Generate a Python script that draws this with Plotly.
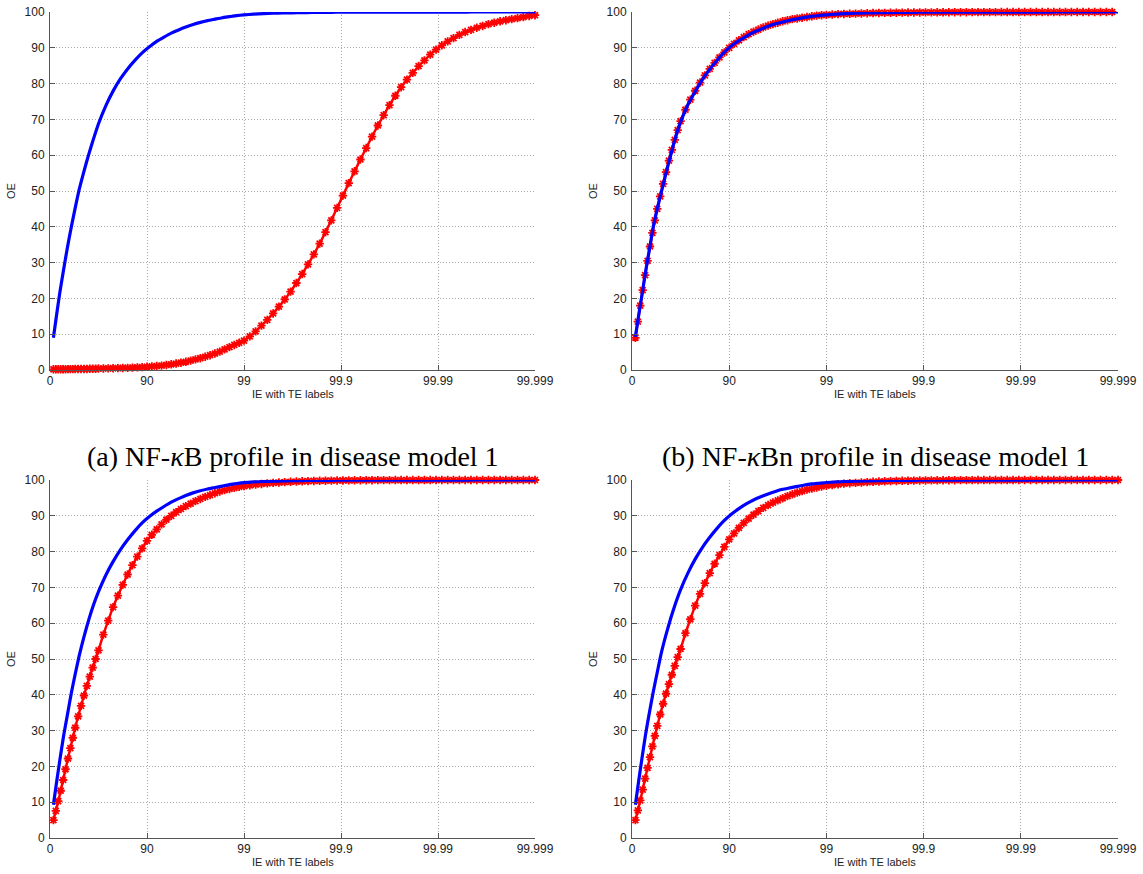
import plotly.graph_objects as go

# ---------------- data ----------------
X_TICK_VALS = [0, 1, 2, 3, 4, 5]
X_TICK_TEXT = ["0", "90", "99", "99.9", "99.99", "99.999"]
Y_TICK_VALS = [0, 10, 20, 30, 40, 50, 60, 70, 80, 90, 100]

# sample positions of the blue (line only) series
X_BLUE = [0.035, 0.07, 0.10, 0.14, 0.18, 0.22, 0.26, 0.30, 0.35, 0.40, 0.45, 0.50,
          0.575, 0.65, 0.725, 0.80, 0.875, 0.95, 1.025, 1.10, 1.175, 1.25, 1.325, 1.40,
          1.475, 1.55, 1.625, 1.70, 1.775, 1.85, 1.925, 2.00,
          2.1, 2.2, 2.3, 2.4, 2.5, 2.6, 2.7, 2.8, 2.9, 3.0, 3.1, 3.2, 3.3, 3.4, 3.5,
          3.6, 3.7, 3.8, 3.9, 4.0, 4.1, 4.2, 4.3, 4.4, 4.5, 4.6, 4.7, 4.8, 4.9, 5.0]

# sample positions of the red (line + marker) series
X_RED = [0.035, 0.06, 0.085, 0.11, 0.135, 0.16, 0.185, 0.21, 0.235, 0.26, 0.29, 0.32,
         0.35, 0.38, 0.41, 0.44, 0.47, 0.50,
         0.55, 0.60, 0.65, 0.70, 0.75, 0.80, 0.85, 0.90, 0.95, 1.00, 1.05, 1.10, 1.15,
         1.20, 1.25, 1.30, 1.35, 1.40, 1.45, 1.50, 1.55, 1.60, 1.65, 1.70, 1.75, 1.80,
         1.85, 1.90, 1.95, 2.00,
         2.06, 2.12, 2.18, 2.24, 2.30, 2.36, 2.42, 2.48, 2.54, 2.60, 2.66, 2.72, 2.78,
         2.84, 2.90, 2.96, 3.02, 3.08, 3.14, 3.20, 3.26, 3.32, 3.38, 3.44, 3.50, 3.56,
         3.62, 3.68, 3.74, 3.80, 3.86, 3.92, 3.98, 4.04, 4.10, 4.16, 4.22, 4.28, 4.34,
         4.40, 4.46, 4.52, 4.58, 4.64, 4.70, 4.76, 4.82, 4.88, 4.94, 5.00]

A_BLUE = [9.0, 15.8, 21.4, 28.0, 34.3, 40.0, 45.3, 50.3, 55.5, 60.3, 64.7, 68.8,
          73.8, 77.9, 81.3, 84.1, 86.5, 88.6, 90.3, 91.8, 93.0, 94.1, 95.0, 95.8,
          96.5, 97.1, 97.6, 98.0, 98.4, 98.7, 99.0, 99.2,
          99.4, 99.55, 99.65, 99.72, 99.78, 99.83, 99.87, 99.9, 99.92, 99.94, 99.95,
          99.96, 99.96, 99.97, 99.97, 99.98, 99.98, 99.98, 99.99, 99.99, 99.99, 99.99,
          99.99, 100, 100, 100, 100, 100, 100, 100]
A_RED = [0.2, 0.2, 0.2, 0.2, 0.2, 0.2, 0.25, 0.25, 0.25, 0.3, 0.3, 0.3,
         0.3, 0.3, 0.35, 0.35, 0.35, 0.4,
         0.43, 0.46, 0.5, 0.53, 0.57, 0.6, 0.67, 0.73, 0.8, 0.9, 1.0, 1.1, 1.23,
         1.4, 1.6, 1.8, 2.03, 2.3, 2.63, 2.97, 3.3, 3.7, 4.13, 4.6, 5.13, 5.75,
         6.4, 7.0, 7.6, 8.2,
         9.4, 10.8, 12.4, 14.0, 15.8, 17.7, 19.7, 21.9, 24.3, 26.8, 29.5, 32.3, 35.3,
         38.5, 41.8, 45.3, 48.7, 52.2, 55.5, 58.8, 62.0, 65.2, 68.3, 71.2, 74.0, 76.6,
         79.0, 81.1, 83.0, 84.9, 86.5, 88.1, 89.5, 90.7, 91.8, 92.7, 93.6, 94.4, 95.0,
         95.6, 96.1, 96.6, 97.0, 97.4, 97.7, 98.0, 98.3, 98.6, 98.9, 99.1]

B_BLUE = [9.3, 15.5, 20.5, 27.5, 33.8, 40.2, 45.1, 49.5, 55.0, 60.2, 65.2, 69.3,
          74.1, 77.8, 81.2, 84.0, 86.5, 88.8, 90.6, 92.0, 93.2, 94.3, 95.2, 96.0,
          96.7, 97.2, 97.7, 98.1, 98.5, 98.8, 99.0, 99.2,
          99.4, 99.55, 99.65, 99.72, 99.78, 99.83, 99.87, 99.9, 99.92, 99.94, 99.95,
          99.96, 99.96, 99.97, 99.97, 99.98, 99.98, 99.98, 99.99, 99.99, 99.99, 99.99,
          99.99, 100, 100, 100, 100, 100, 100, 100]
B_RED = [9.0, 13.5, 18.0, 22.3, 26.5, 30.5, 34.5, 38.3, 41.8, 45.0, 48.5, 52.0,
         55.3, 58.5, 61.5, 64.3, 67.0, 69.5,
         72.7, 75.5, 78.0, 80.3, 82.3, 84.1, 85.8, 87.3, 88.7, 90.0, 91.1, 92.1, 93.0,
         93.8, 94.5, 95.1, 95.7, 96.2, 96.6, 97.0, 97.4, 97.7, 98.0, 98.2, 98.4, 98.6,
         98.8, 99.0, 99.1, 99.2,
         99.3, 99.4, 99.45, 99.5, 99.55, 99.6, 99.65, 99.7, 99.73, 99.76, 99.78, 99.8,
         99.82, 99.84, 99.86, 99.88, 99.89, 99.9, 99.91, 99.92, 99.93, 99.94, 99.95,
         99.95, 99.96, 99.96, 99.97, 99.97, 99.97, 99.98, 99.98, 99.98, 99.98, 99.99,
         99.99, 99.99, 99.99, 99.99, 99.99, 99.99, 99.99, 100, 100, 100, 100, 100,
         100, 100, 100]

C_BLUE = [9.3, 16.0, 21.5, 28.5, 34.5, 40.5, 45.8, 50.8, 56.2, 61.0, 65.2, 68.8,
          73.4, 77.2, 80.5, 83.3, 85.8, 88.0, 89.8, 91.3, 92.6, 93.8, 94.8, 95.7,
          96.4, 97.0, 97.5, 97.9, 98.3, 98.7, 99.0, 99.25,
          99.45, 99.58, 99.67, 99.74, 99.8, 99.84, 99.88, 99.9, 99.92, 99.94, 99.95,
          99.96, 99.96, 99.97, 99.97, 99.98, 99.98, 99.98, 99.99, 99.99, 99.99, 99.99,
          99.99, 100, 100, 100, 100, 100, 100, 100]
C_RED = [5.0, 7.6, 10.3, 13.2, 16.2, 19.2, 22.2, 25.1, 28.0, 30.8, 34.0, 36.9,
         39.8, 42.5, 45.1, 47.6, 50.0, 52.4,
         56.8, 60.7, 64.5, 67.7, 70.7, 73.6, 76.2, 78.6, 80.9, 83.0, 84.7, 86.2, 87.6,
         88.9, 90.0, 91.0, 91.9, 92.7, 93.4, 94.1, 94.7, 95.3, 95.8, 96.3, 96.8, 97.2,
         97.5, 97.8, 98.1, 98.3,
         98.5, 98.7, 98.9, 99.05, 99.2, 99.3, 99.4, 99.5, 99.57, 99.63, 99.68, 99.73,
         99.77, 99.8, 99.83, 99.86, 99.88, 99.9, 99.92, 99.93, 99.94, 99.95, 99.96,
         99.97, 99.97, 99.98, 99.98, 99.98, 99.99, 99.99, 99.99, 99.99, 100, 100, 100,
         100, 100, 100, 100, 100, 100, 100, 100, 100, 100, 100, 100, 100, 100, 100]

D_BLUE = [9.3, 16.2, 21.8, 29.0, 35.2, 41.0, 46.3, 51.5, 56.8, 61.5, 65.7, 69.4,
          74.0, 77.9, 81.2, 84.0, 86.5, 88.7, 90.5, 92.0, 93.3, 94.4, 95.3, 96.1,
          96.8, 97.4, 97.8, 98.2, 98.6, 98.9, 99.1, 99.3,
          99.45, 99.58, 99.67, 99.74, 99.8, 99.84, 99.88, 99.9, 99.92, 99.94, 99.95,
          99.96, 99.96, 99.97, 99.97, 99.98, 99.98, 99.98, 99.99, 99.99, 99.99, 99.99,
          99.99, 100, 100, 100, 100, 100, 100, 100]
D_RED = [5.0, 7.7, 10.5, 13.5, 16.6, 19.6, 22.6, 25.6, 28.5, 31.3, 34.5, 37.5,
         40.3, 43.0, 45.6, 48.1, 50.5, 52.8,
         57.2, 61.1, 64.9, 68.2, 71.2, 74.0, 76.6, 79.0, 81.3, 83.4, 85.1, 86.6, 88.0,
         89.2, 90.3, 91.3, 92.2, 93.0, 93.7, 94.3, 94.9, 95.5, 96.0, 96.5, 96.9, 97.3,
         97.6, 97.9, 98.2, 98.4,
         98.6, 98.8, 99.0, 99.1, 99.2, 99.3, 99.4, 99.5, 99.57, 99.63, 99.68, 99.73,
         99.77, 99.8, 99.83, 99.86, 99.88, 99.9, 99.92, 99.93, 99.94, 99.95, 99.96,
         99.97, 99.97, 99.98, 99.98, 99.98, 99.99, 99.99, 99.99, 99.99, 100, 100, 100,
         100, 100, 100, 100, 100, 100, 100, 100, 100, 100, 100, 100, 100, 100, 100]

CAPTIONS = ["(a) NF-<i>κ</i>B profile in disease model 1",
            "(b) NF-<i>κ</i>Bn profile in disease model 1"]
X_TITLE = "IE with TE labels"
Y_TITLE = "OE"

PANELS = [(A_BLUE, A_RED), (B_BLUE, B_RED), (C_BLUE, C_RED), (D_BLUE, D_RED)]

# ---------------- layout geometry ----------------
W, H = 1143, 874
BOXES = [(50, 535, 12, 370), (632, 1118, 12, 370),
         (50, 535, 480, 838), (632, 1118, 480, 838)]

fig = go.Figure()
SANS = "Liberation Sans, Arial, sans-serif"
SERIF = "Liberation Serif, Times New Roman, serif"

for i, ((blue, red), (x0, x1, y0, y1)) in enumerate(zip(PANELS, BOXES)):
    n = "" if i == 0 else str(i + 1)
    xa, ya = "x" + n, "y" + n
    fig.add_trace(go.Scatter(
        x=X_RED, y=red, xaxis=xa, yaxis=ya, mode="lines+markers",
        line=dict(color="#ff0000", width=2.5, shape="spline", smoothing=0.5),
        marker=dict(symbol="asterisk-open", size=7, color="#ff0000",
                    line=dict(color="#ff0000", width=1.8)),
        cliponaxis=False, showlegend=False))
    fig.add_trace(go.Scatter(
        x=X_BLUE, y=blue, xaxis=xa, yaxis=ya, mode="lines",
        line=dict(color="#0000ff", width=3.2, shape="spline", smoothing=0.5),
        cliponaxis=False, showlegend=False))
    axcommon = dict(showline=True, linecolor="#555555", linewidth=1,
                    ticks="inside", ticklen=5, tickcolor="#555555",
                    showgrid=True, gridcolor="#a8a8a8", griddash="1px,2px",
                    gridwidth=1, zeroline=False, automargin=False,
                    tickfont=dict(family=SANS, size=12, color="#222222"))
    fig.layout["xaxis" + n] = dict(
        domain=[x0 / W, x1 / W], range=[0, 5], anchor=ya,
        tickvals=X_TICK_VALS, ticktext=X_TICK_TEXT, **axcommon)
    fig.layout["yaxis" + n] = dict(
        domain=[1 - y1 / H, 1 - y0 / H], range=[0, 100], anchor=xa,
        tickvals=Y_TICK_VALS, ticklabelstandoff=2, **axcommon)
    # axis titles
    fig.add_annotation(x=(x0 + x1) / 2 / W, y=1 - (y1 + 24) / H, xref="paper",
                       yref="paper", text=X_TITLE, showarrow=False,
                       font=dict(family=SANS, size=11, color="#222222"),
                       xanchor="center", yanchor="middle")
    fig.add_annotation(x=(x0 - 39) / W, y=1 - (y0 + y1) / 2 / H, xref="paper",
                       yref="paper", text=Y_TITLE, showarrow=False, textangle=-90,
                       font=dict(family=SANS, size=11, color="#222222"),
                       xanchor="center", yanchor="middle")

for j, cap in enumerate(CAPTIONS):
    x0, x1 = BOXES[j][0], BOXES[j][1]
    fig.add_annotation(x=(x0 + x1) / 2 / W, y=1 - 456 / H, xref="paper",
                       yref="paper", text=cap, showarrow=False,
                       font=dict(family=SERIF, size=28, color="#000000"),
                       xanchor="center", yanchor="middle")

fig.update_layout(width=W, height=H, margin=dict(l=0, r=0, t=0, b=0),
                  paper_bgcolor="white", plot_bgcolor="white", showlegend=False)

fig.write_html("out.html")
